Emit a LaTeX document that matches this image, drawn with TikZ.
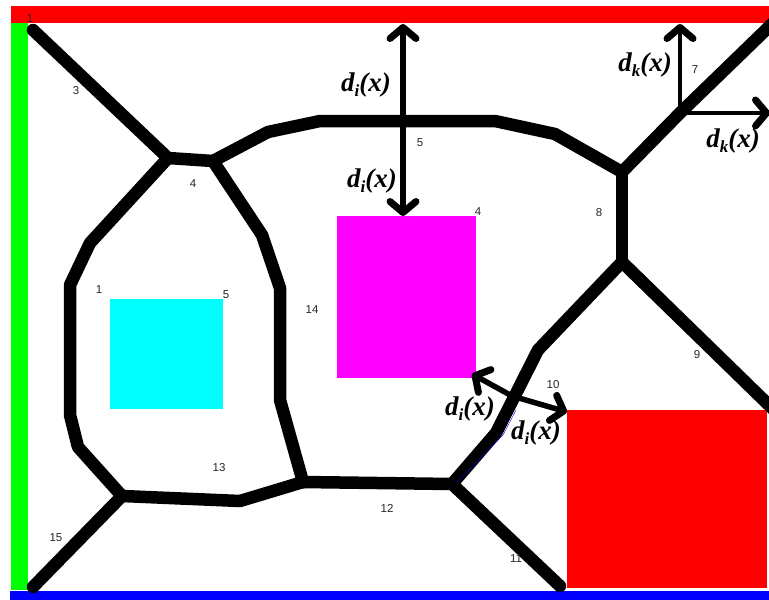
\documentclass[tikz,border=0pt]{standalone}
\usepackage{fontspec}
\setmainfont{Liberation Serif}
\newfontfamily\numfont{Liberation Sans}
\usetikzlibrary{arrows.meta}
\definecolor{wallred}{RGB}{255,0,0}
\definecolor{wallgreen}{RGB}{0,255,0}
\definecolor{wallblue}{RGB}{0,0,255}
\definecolor{goalpink}{RGB}{255,0,255}
\definecolor{goalcyan}{RGB}{0,255,255}
\newcommand{\distlabel}[1]{\textbf{\textit{d\raisebox{-5pt}{\fontsize{17}{17}\selectfont #1}(x)}}}

\begin{document}
\begin{tikzpicture}[x=1pt,y=-1pt,>={Straight Barb[length=11pt,width=26pt,line width=7pt,round]}]
\tikzstyle{edge}=[line width=12.5pt,line join=round,line cap=round]
\tikzstyle{dist}=[line width=5.5pt]
\tikzstyle{distk}=[line width=4pt]
\tikzstyle{num}=[font=\numfont\fontsize{11.5}{13}\selectfont,text=black!85,inner sep=0pt]
\tikzstyle{dlabel}=[font=\fontsize{27}{30}\selectfont,inner sep=0pt]

\useasboundingbox (0,0) rectangle (769,600);
\clip (0,0) rectangle (769,600);

% walls and obstacles
\fill[wallred] (11,6) rectangle (769,23);
\fill[wallgreen] (11,23) rectangle (28,590);
\fill[wallblue] (10,591) rectangle (769,600);
\fill[goalpink] (337,216) rectangle (476,378);
\fill[goalcyan] (110,299) rectangle (223,409);
\fill[wallred] (567,410) rectangle (767,588);

% junctions
\coordinate (tl) at (33,30);
\coordinate (ja) at (168,158);
\coordinate (jb) at (213,161);
\coordinate (jc) at (622,172);
\coordinate (jd) at (622,262);
\coordinate (je) at (452,484);
\coordinate (jf) at (303,482);
\coordinate (jg) at (122,496);
\coordinate (jh) at (680,113);
\coordinate (tr) at (775,21);
\coordinate (rr) at (775,411);
\coordinate (bl) at (33,587);
\coordinate (br) at (560,586);

% bisector edges
\draw[edge] (tl) -- (ja) -- (jb);
\draw[edge] (ja) -- (90,243) -- (70,285) -- (70,415) -- (78,447) -- (jg);
\draw[edge] (jb) -- (262,235) -- (280,288) -- (280,400) -- (jf);
\draw[edge] (jb) -- (268,132) -- (320,121) -- (495,121) -- (555,134) -- (jc);
\draw[edge] (jc) -- (jh) -- (tr);
\draw[edge] (jc) -- (jd);
\draw[edge] (jd) -- (538,350) -- (496,433) -- (je);
\draw[edge] (jd) -- (rr);
\draw[edge] (jf) -- (je);
\draw[edge] (jg) -- (240,501) -- (jf);
\draw[edge] (jg) -- (bl);
\draw[edge] (je) -- (br);
\draw[wallblue,thin] (516,410) -- (503,435) -- (457,482);

% distance arrows
\coordinate (top) at (403,24);
\coordinate (mid) at (403,121);
\coordinate (mag) at (403,216);
\coordinate (topk) at (680,24);
\coordinate (rightk) at (770,113);
\coordinate (lefti) at (472,374);
\coordinate (crossi) at (512,396);
\coordinate (righti) at (567,412);
\draw[dist,->] (mid) -- (top);
\draw[dist,->] (mid) -- (mag);
\draw[distk,->] (jh) -- (topk);
\draw[distk,->] (jh) -- (rightk);
\draw[dist,<->,line join=round] (lefti) -- (crossi) -- (righti);

\node[dlabel] (la) at (366,85) {\distlabel{i}};
\node[dlabel] (lb) at (372,181) {\distlabel{i}};
\node[dlabel] (lc) at (470,409) {\distlabel{i}};
\node[dlabel] (ld) at (536,433) {\distlabel{i}};
\node[dlabel] (le) at (645,65) {\distlabel{k}};
\node[dlabel] (lf) at (733,141) {\distlabel{k}};

% edge numbers
\node[num] (n1) at (30,19) {1};
\node[num] (n3) at (76,91) {3};
\node[num] (n4) at (193,184) {4};
\node[num] (n1b) at (99,290) {1};
\node[num] (n5) at (226,295) {5};
\node[num] (n14) at (312,310) {14};
\node[num] (n13) at (219,468) {13};
\node[num] (n15) at (56,538) {15};
\node[num] (n12) at (387,508) {12};
\node[num] (n11) at (516,559) {11};
\node[num] (n10) at (553,385) {10};
\node[num] (n9) at (697,355) {9};
\node[num] (n8) at (599,213) {8};
\node[num] (n7) at (695,70) {7};
\node[num] (n5b) at (420,143) {5};
\node[num] (n4b) at (478,212) {4};
\end{tikzpicture}
\end{document}
